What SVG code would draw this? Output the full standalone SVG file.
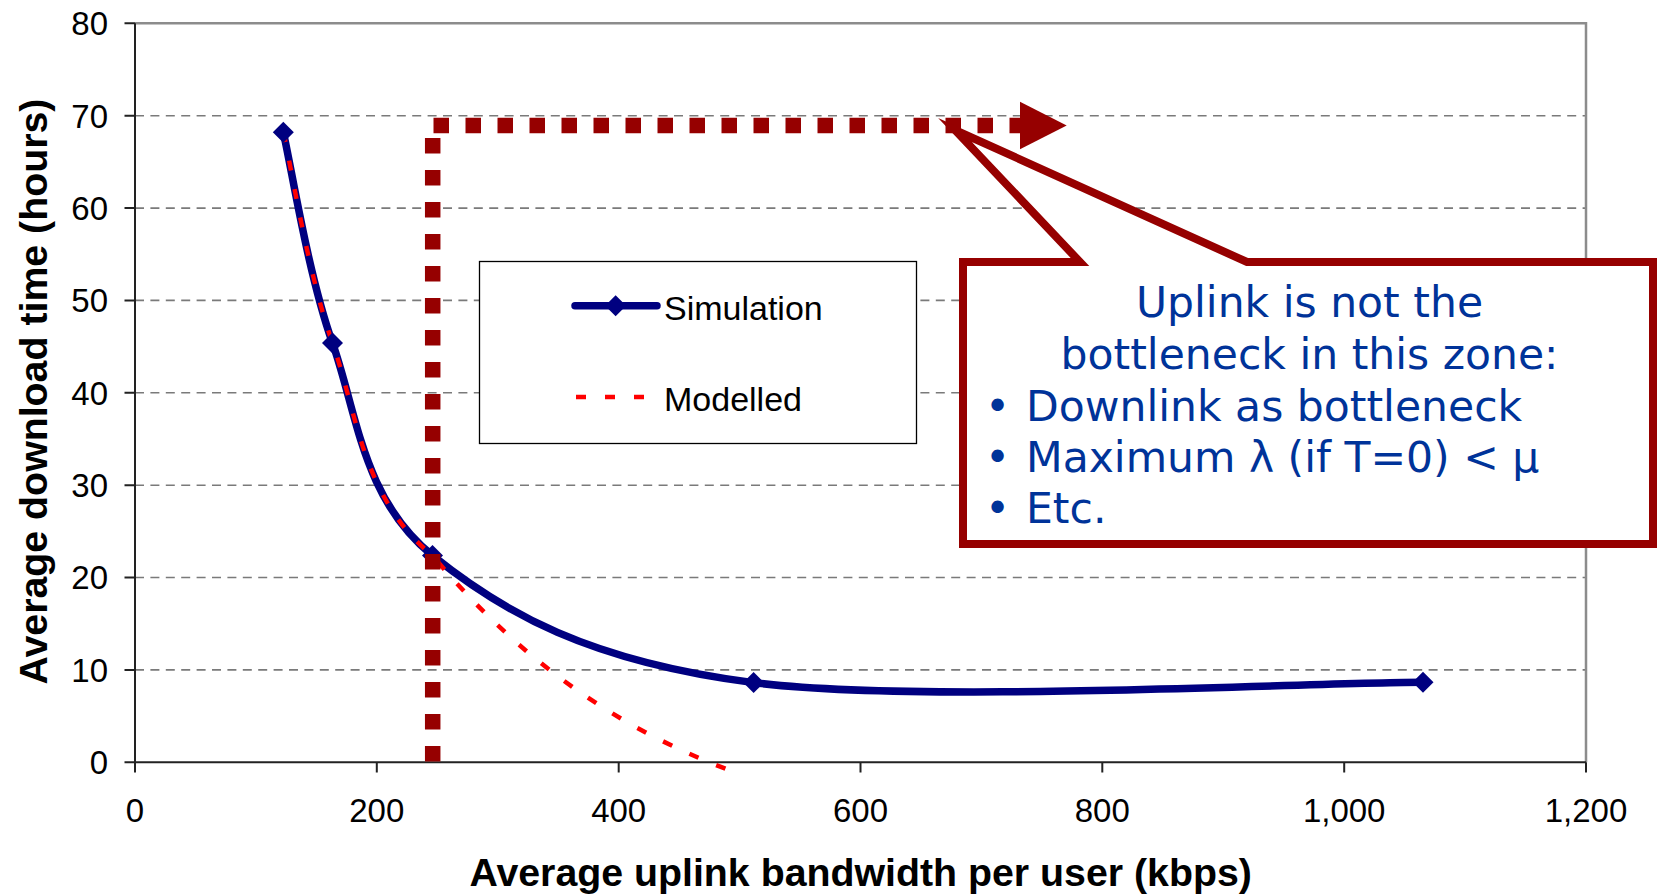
<svg xmlns="http://www.w3.org/2000/svg" width="1657" height="895" viewBox="0 0 1657 895">
  <style>
    .tick{font-family:"Liberation Sans",Arial,sans-serif;font-size:33px;fill:#000}
    .title{font-family:"Liberation Sans",Arial,sans-serif;font-size:39.3px;font-weight:bold;fill:#000}
    .leg{font-family:"Liberation Sans",Arial,sans-serif;font-size:34px;fill:#000}
    .note{font-family:"DejaVu Sans",Verdana,sans-serif;font-size:42.5px;fill:#003399}
    .grid{stroke:#7a7a7a;stroke-width:1.6;stroke-dasharray:9 6.4;fill:none}
    .frame{stroke:#8c8c8c;stroke-width:2.5;fill:none}
    .axis{stroke:#222;stroke-width:2;fill:none}
    .sim{stroke:#000080;stroke-width:7.5;fill:none;stroke-linejoin:round;stroke-linecap:round}
    .mod{stroke:#ff0000;stroke-width:4.5;fill:none;stroke-dasharray:10 19}
    .dots{stroke:#960000;stroke-width:15.5;fill:none;stroke-dasharray:15.5 16.5}
    .bubble{stroke:#960000;stroke-width:8;fill:#fff;stroke-linejoin:miter;stroke-miterlimit:6}
  </style>
  <defs>
    <path id="diamond" d="M0,-10.5 L10.5,0 L0,10.5 L-10.5,0Z" fill="#000080"/>
    <marker id="arrowhead" markerUnits="userSpaceOnUse" viewBox="0 0 50 50" markerWidth="50" markerHeight="50" refX="0" refY="25" orient="auto">
      <path d="M0,1.2 L46.7,25 L0,48.8Z" fill="#960000"/>
    </marker>
  </defs>

  <!-- horizontal gridlines every 10 hours -->
  <g id="grid">
    <path class="grid" d="M135,669.9H1586M135,577.55H1586M135,485.2H1586M135,392.8H1586M135,300.4H1586M135,208.1H1586M135,115.7H1586"/>
  </g>

  <!-- plot frame, axes and ticks -->
  <g id="axes">
    <path class="frame" d="M135,23.3H1586V762.3"/>
    <path class="axis" d="M135,23.3V772.5M124.5,762.3H1586"/>
    <path class="axis" d="M124.5,669.9H135M124.5,577.55H135M124.5,485.2H135M124.5,392.8H135M124.5,300.4H135M124.5,208.1H135M124.5,115.7H135M124.5,23.3H135"/>
    <path class="axis" d="M376.8,762.3V772.5M618.7,762.3V772.5M860.5,762.3V772.5M1102.3,762.3V772.5M1344.2,762.3V772.5M1586,762.3V772.5"/>
    <g class="tick" text-anchor="end">
      <text x="108" y="774">0</text>
      <text x="108" y="681.7">10</text>
      <text x="108" y="589.3">20</text>
      <text x="108" y="497">30</text>
      <text x="108" y="404.6">40</text>
      <text x="108" y="312.2">50</text>
      <text x="108" y="219.9">60</text>
      <text x="108" y="127.5">70</text>
      <text x="108" y="35.1">80</text>
    </g>
    <g class="tick" text-anchor="middle">
      <text x="135" y="821.5">0</text>
      <text x="376.8" y="821.5">200</text>
      <text x="618.7" y="821.5">400</text>
      <text x="860.5" y="821.5">600</text>
      <text x="1102.3" y="821.5">800</text>
      <text x="1344.2" y="821.5">1,000</text>
      <text x="1586" y="821.5">1,200</text>
    </g>
    <text class="title" x="860.7" y="886" text-anchor="middle">Average uplink bandwidth per user (kbps)</text>
    <text class="title" transform="translate(46.5,391.5) rotate(-90)" text-anchor="middle">Average download time (hours)</text>
  </g>

  <!-- data series -->
  <g id="series-simulation">
    <path class="sim" d="M283.3,132.3C291.5,167.4 307.6,272.5 332.5,343C357.4,413.5 362.3,498.9 432.5,555.5C502.7,612.1 588.5,661.5 753.6,682.6C918.7,703.7 1311.4,682.3 1423,682.3"/>
  </g>
  <g id="series-modelled">
    <path class="mod" d="M283.3,132.3C291.5,167.4 307.6,272.5 332.5,343C357.4,413.5 362.3,498.9 432.5,555.5C532.5,675.5 636,735.7 736,772.7"/>
  </g>
  <g id="markers-simulation">
    <use href="#diamond" x="283.3" y="132.3"/>
    <use href="#diamond" x="332.5" y="343"/>
    <use href="#diamond" x="432.5" y="555.5"/>
    <use href="#diamond" x="753.6" y="682.6"/>
    <use href="#diamond" x="1423" y="682.3"/>
  </g>

  <!-- legend -->
  <g id="legend">
    <rect x="479.5" y="261.5" width="437" height="182" fill="#fff" stroke="#000" stroke-width="1.3"/>
    <path class="sim" d="M575,305.7H657"/>
    <use href="#diamond" x="615.6" y="305.7"/>
    <text class="leg" x="664" y="320">Simulation</text>
    <path class="mod" d="M576,397H645"/>
    <text class="leg" x="664" y="410.7">Modelled</text>
  </g>

  <!-- dotted threshold guide with arrow -->
  <g id="connectors">
    <path class="dots" d="M432.7,761.5V137.5"/>
    <path class="dots" d="M433.5,125.5H1020" marker-end="url(#arrowhead)"/>
  </g>

  <!-- annotation callout -->
  <g id="callout">
    <polygon class="bubble" points="963,262 1080,262 955,130 1247,262 1653,262 1653,544 963,544"/>
    <text class="note" x="1309.5" y="317.3" text-anchor="middle">Uplink is not the</text>
    <text class="note" x="1309.5" y="369.3" text-anchor="middle">bottleneck in this zone:</text>
    <text class="note" y="421"><tspan x="985">•</tspan><tspan x="1026">Downlink as bottleneck</tspan></text>
    <text class="note" y="471.7"><tspan x="985">•</tspan><tspan x="1026">Maximum λ (if T=0) &lt; μ</tspan></text>
    <text class="note" y="522.7"><tspan x="985">•</tspan><tspan x="1026">Etc.</tspan></text>
  </g>
</svg>
